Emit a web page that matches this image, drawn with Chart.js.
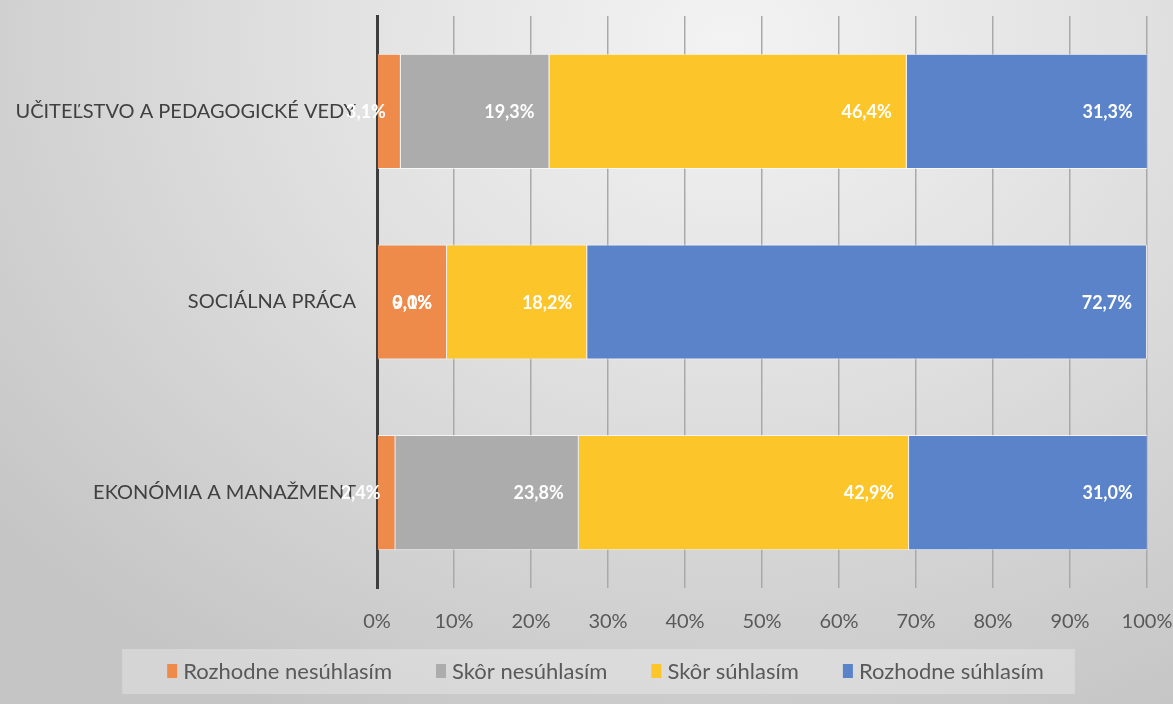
<!DOCTYPE html>
<html>
<head>
<meta charset="utf-8">
<script src="https://cdn.jsdelivr.net/npm/chart.js@4"></script>
<style>
  html, body { margin: 0; padding: 0; }
  body {
    width: 1173px; height: 704px; overflow: hidden;
    background: radial-gradient(ellipse 950px 760px at 730px 40px, #f3f3f3 0%, #e0e0e0 45%, #c5c5c5 100%);
  }
  #wrap { position: relative; width: 1173px; height: 704px; }
</style>
</head>
<body>
<div id="wrap"><canvas id="chart"></canvas></div>
<script>
const categories = ['UČITEĽSTVO A PEDAGOGICKÉ VEDY', 'SOCIÁLNA PRÁCA', 'EKONÓMIA A MANAŽMENT'];
const seriesNames = ['Rozhodne nesúhlasím', 'Skôr nesúhlasím', 'Skôr súhlasím', 'Rozhodne súhlasím'];
const rozhodneNesuhlasim = [3.1, 9.1, 2.4];
const skorNesuhlasim = [19.3, 0.0, 23.8];
const skorSuhlasim = [46.4, 18.2, 42.9];
const rozhodneSuhlasim = [31.3, 72.7, 31.0];
const xTicks = [0, 10, 20, 30, 40, 50, 60, 70, 80, 90, 100];

const colors = ['#ee8b4b', '#acacac', '#fcc52a', '#5b83c9'];
const values = [rozhodneNesuhlasim, skorNesuhlasim, skorSuhlasim, rozhodneSuhlasim];

const fmt = v => v.toFixed(1).replace('.', ',') + '%';

// value labels, right aligned near the end of each segment (like Excel "inside end")
const valueLabels = {
  id: 'valueLabels',
  afterDatasetsDraw(chart) {
    const ctx = chart.ctx;
    ctx.save();
    ctx.font = 'bold 18px Lato';
    ctx.fillStyle = '#ffffff';
    ctx.textAlign = 'right';
    ctx.textBaseline = 'middle';
    chart.data.datasets.forEach((ds, i) => {
      chart.getDatasetMeta(i).data.forEach((bar, j) => {
        ctx.fillText(fmt(ds.data[j]), bar.x - 15, bar.y + 1);
      });
    });
    ctx.restore();
  }
};

// legend drawn by hand so the item spacing matches the original
const legendBox = {
  id: 'legendBox',
  afterDraw(chart) {
    const ctx = chart.ctx;
    ctx.save();
    ctx.font = '22px Lato';
    const gap = 44, box = 10, textGap = 6;
    const widths = seriesNames.map(n => box + textGap + ctx.measureText(n).width);
    const total = widths.reduce((a, b) => a + b, 0) + gap * (widths.length - 1);
    const cy = chart.chartArea.bottom + 83;
    let x = chart.width / 2 + 19 - total / 2;
    ctx.fillStyle = 'rgba(255,255,255,0.28)';
    ctx.fillRect(x - 45, cy - 22, total + 76, 45);
    ctx.textBaseline = 'middle';
    ctx.textAlign = 'left';
    seriesNames.forEach((n, i) => {
      ctx.fillStyle = colors[i];
      ctx.fillRect(x, cy - 7, box, 14);
      ctx.fillStyle = '#595959';
      ctx.fillText(n, x + box + textGap, cy + 1);
      x += widths[i] + gap;
    });
    ctx.restore();
  }
};

new Chart(document.getElementById('chart'), {
  type: 'bar',
  data: {
    labels: categories,
    datasets: seriesNames.map((name, i) => ({
      label: name,
      data: values[i],
      backgroundColor: colors[i],
      borderColor: 'rgba(255,255,255,0.7)',
      borderWidth: 1,
      barPercentage: 0.75,
      categoryPercentage: 0.805
    }))
  },
  options: {
    indexAxis: 'y',
    responsive: true,
    maintainAspectRatio: false,
    animation: false,
    layout: { padding: { top: 16, right: 26, bottom: 64, left: 0 } },
    plugins: {
      legend: { display: false },
      tooltip: { enabled: false }
    },
    scales: {
      x: {
        stacked: true,
        min: 0,
        max: 100,
        afterBuildTicks: s => { s.ticks = xTicks.map(v => ({ value: v })); },
        afterFit: s => { s.height = 52; s.paddingLeft = 0; s.paddingRight = 0; },
        grid: { color: '#a9a9a9', lineWidth: 1.5, drawTicks: false },
        border: { display: false },
        ticks: {
          padding: 22,
          color: '#595959',
          font: { family: 'Lato', size: 20 },
          callback: v => v + '%'
        }
      },
      y: {
        stacked: true,
        afterFit: s => { s.width = 377; s.paddingTop = 0; s.paddingBottom = 0; },
        grid: { display: false, drawTicks: false },
        border: { display: true, color: '#3d3d3d', width: 3 },
        ticks: {
          padding: 21,
          color: '#404040',
          font: { family: 'Lato', size: 20 }
        }
      }
    }
  },
  plugins: [valueLabels, legendBox]
});
</script>
</body>
</html>
